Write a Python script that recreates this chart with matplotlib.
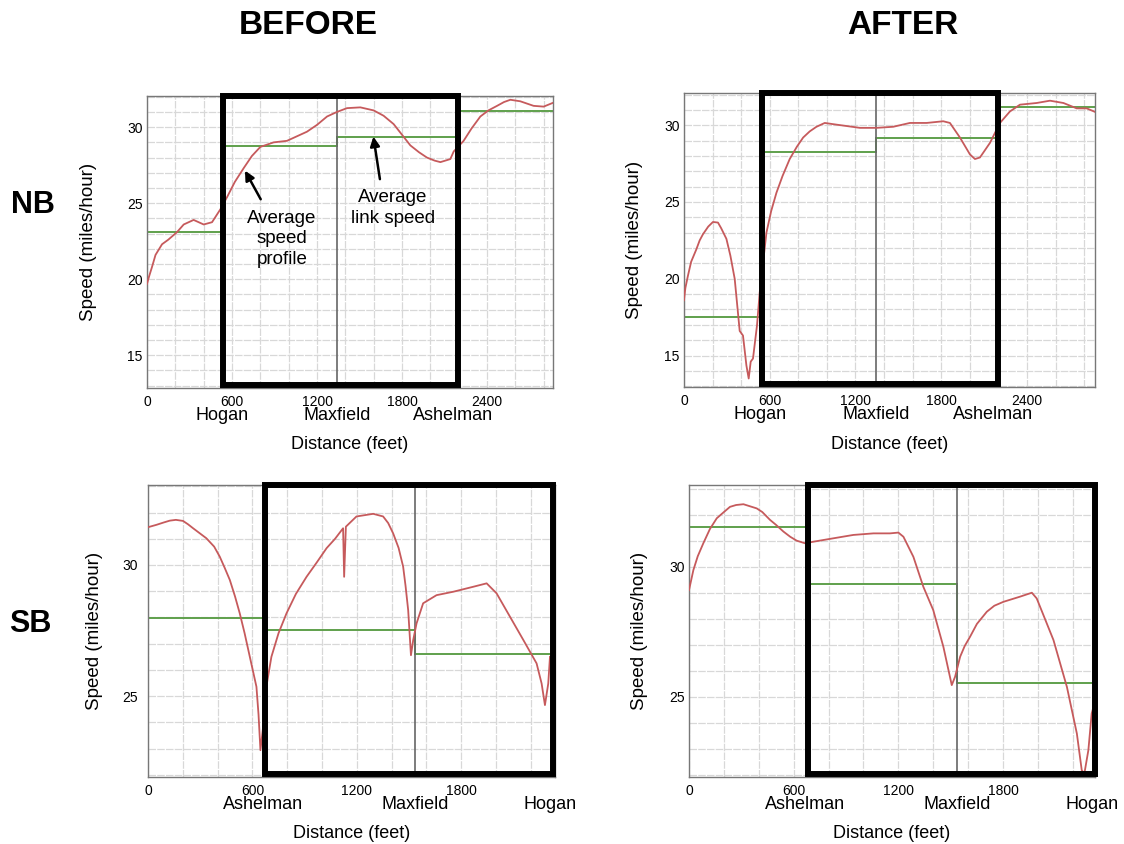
import numpy as np
import matplotlib.pyplot as plt
from matplotlib.patches import Rectangle

plt.rcParams['font.family'] = ['Liberation Sans', 'DejaVu Sans']

# ---- NB before ----
nb_before_x = [0, 15, 35, 60, 106, 150, 212, 259, 329, 400, 459, 518, 565, 620, 682, 740, 800,
               894, 988, 1129, 1200, 1271, 1341, 1412, 1506, 1600, 1670, 1741, 1800, 1859, 1920,
               1976, 2030, 2071, 2141, 2165, 2235, 2290, 2353, 2410, 2471, 2520, 2565, 2635,
               2729, 2800, 2866]
nb_before_y = [19.7, 20.2, 20.8, 21.6, 22.3, 22.6, 23.1, 23.6, 23.9, 23.6, 23.75, 24.6, 25.4,
               26.4, 27.3, 28.1, 28.7, 29.0, 29.1, 29.7, 30.15, 30.7, 31.0, 31.25, 31.3, 31.1,
               30.75, 30.2, 29.5, 28.8, 28.35, 28.0, 27.8, 27.7, 27.9, 28.4, 29.1, 29.9, 30.7,
               31.1, 31.4, 31.65, 31.8, 31.7, 31.4, 31.35, 31.6]
nb_before_nodes = [0, 536, 1341, 2195, 2866]
nb_before_avg = [23.1, 28.75, 29.35, 31.05]

# ---- NB after ----
nb_after_x = [0, 10, 28, 50, 86, 110, 133, 170, 203, 238, 260, 297, 325, 355, 390, 413, 437,
              453, 467, 483, 511, 530, 577, 610, 647, 690, 740, 790, 834, 880, 927, 985, 1067,
              1231, 1347, 1464, 1581, 1698, 1814, 1861, 1931, 2001, 2036, 2071, 2141, 2211,
              2281, 2351, 2468, 2561, 2655, 2748, 2818, 2876]
nb_after_y = [18.6, 19.4, 20.2, 21.1, 21.9, 22.5, 22.9, 23.4, 23.7, 23.66, 23.3, 22.6, 21.5,
              20.0, 16.6, 16.3, 14.35, 13.5, 14.6, 14.8, 16.95, 19.1, 23.0, 24.4, 25.6, 26.7,
              27.8, 28.6, 29.2, 29.6, 29.9, 30.15, 30.04, 29.83, 29.83, 29.9, 30.15, 30.15,
              30.26, 30.15, 29.2, 28.1, 27.8, 27.9, 28.85, 30.15, 30.9, 31.34, 31.45, 31.6,
              31.45, 31.1, 31.1, 30.87]
nb_after_nodes = [0, 549, 1347, 2199, 2876]
nb_after_avg = [17.5, 28.27, 29.18, 31.17]

nb_stations = ['Hogan', 'Maxfield', 'Ashelman']

# ---- SB before ----
sb_before_x = [0, 48, 90, 125, 160, 201, 230, 259, 335, 380, 412, 440, 470, 500, 527, 555,
               585, 605, 623, 635, 646, 661, 680, 709, 750, 796, 850, 911, 970, 1026, 1075,
               1121, 1127, 1137, 1198, 1294, 1351, 1380, 1409, 1440, 1466, 1480, 1495, 1511,
               1524, 1543, 1581, 1658, 1754, 1869, 1946, 2003, 2080, 2157, 2233, 2262, 2281,
               2300, 2310]
sb_before_y = [31.44, 31.53, 31.62, 31.69, 31.72, 31.68, 31.55, 31.4, 31.02, 30.7, 30.32,
               29.9, 29.43, 28.8, 28.16, 27.4, 26.5, 25.9, 25.36, 24.3, 22.94, 23.8, 25.36,
               26.5, 27.4, 28.16, 28.9, 29.55, 30.1, 30.64, 31.0, 31.4, 29.55, 31.46, 31.85,
               31.95, 31.85, 31.6, 31.2, 30.65, 29.94, 29.2, 28.28, 26.56, 27.14, 27.77, 28.54,
               28.85, 28.98, 29.17, 29.3, 28.92, 28.03, 27.14, 26.25, 25.48, 24.66, 25.48, 26.5]
sb_before_nodes = [0, 675, 1534, 2339]
sb_before_avg = [27.99, 27.54, 26.59]

# ---- SB after ----
sb_after_x = [0, 25, 50, 82, 120, 159, 200, 235, 270, 312, 388, 420, 464, 500, 541, 580,
              617, 665, 713, 827, 942, 1057, 1152, 1200, 1229, 1286, 1343, 1400, 1458, 1506,
              1525, 1554, 1580, 1611, 1650, 1707, 1750, 1802, 1898, 1965, 1993, 2089, 2166,
              2223, 2251, 2266, 2289, 2308, 2318]
sb_after_y = [29.1, 29.87, 30.4, 30.9, 31.45, 31.86, 32.1, 32.3, 32.37, 32.4, 32.24, 32.1,
              31.8, 31.6, 31.35, 31.15, 31.0, 30.9, 30.96, 31.09, 31.22, 31.28, 31.28, 31.31,
              31.15, 30.38, 29.23, 28.33, 26.92, 25.45, 25.77, 26.54, 26.95, 27.31, 27.8,
              28.27, 28.5, 28.65, 28.85, 29.0, 28.78, 27.18, 25.38, 23.59, 22.18, 22.05,
              22.95, 24.36, 24.6]
sb_after_nodes = [0, 684, 1535, 2327]
sb_after_avg = [31.54, 29.32, 25.54]

sb_stations = ['Ashelman', 'Maxfield', 'Hogan']

RED = '#c65a5c'
GREEN = '#5fa04c'

fig = plt.figure(figsize=(11.24, 8.44), dpi=100)


def panel(rect, x, y, nodes, avg, stations, station_x, box, ylim, yticks, ylab_x, ypad):
    ax = fig.add_axes(rect)
    ax.plot(x, y, color=RED, lw=1.3, zorder=3)
    ax.stairs(avg, nodes, color=GREEN, lw=1.4, baseline=None, zorder=2)
    ax.axvline(station_x[1], color='#666666', lw=1.2, zorder=2)
    ax.set_xlim(nodes[0], nodes[-1])
    ax.set_ylim(*ylim)
    ax.set_xticks([t for t in [0, 600, 1200, 1800, 2400] if t < nodes[-1]])
    ax.set_xticks(np.arange(0, nodes[-1], 200), minor=True)
    ax.set_yticks(yticks)
    ax.set_yticks(np.arange(np.ceil(ylim[0]), ylim[1], 1), minor=True)
    ax.grid(which='both', color='#d8d8d8', lw=0.9, ls=(0, (6, 1)))
    ax.set_axisbelow(True)
    ax.tick_params(which='both', length=0, labelsize=10)
    ax.tick_params(axis='x', pad=5)
    ax.tick_params(axis='y', pad=ypad)
    for s in ax.spines.values():
        s.set_color('#777777')
        s.set_linewidth(1.0)
    tr = ax.get_xaxis_transform()
    ax.add_patch(Rectangle((box[0], 0.01), box[1] - box[0], 0.99, transform=tr,
                           fill=False, ec='black', lw=4.3, clip_on=False, zorder=5))
    for name, sx in zip(stations, station_x):
        ax.text(sx, -0.095, name, transform=tr, ha='center', va='center', fontsize=13)
    ax.text(0.5, -0.195, 'Distance (feet)', transform=ax.transAxes, ha='center',
            va='center', fontsize=13)
    ax.set_ylabel('Speed (miles/hour)', fontsize=13.5)
    ax.yaxis.set_label_coords(ylab_x, 0.5)
    return ax


ax1 = panel([0.1308, 0.5403, 0.3612, 0.346], nb_before_x, nb_before_y, nb_before_nodes,
            nb_before_avg, nb_stations, [530, 1341, 2160], (536, 2195), (12.85, 32.05),
            [15, 20, 25, 30], -0.123, 3)
ax2 = panel([0.6085, 0.5415, 0.3657, 0.3483], nb_after_x, nb_after_y, nb_after_nodes,
            nb_after_avg, nb_stations, [530, 1347, 2160], (549, 2199), (12.95, 32.1),
            [15, 20, 25, 30], -0.1, 3)
ax3 = panel([0.1317, 0.0794, 0.3621, 0.346], sb_before_x, sb_before_y, sb_before_nodes,
            sb_before_avg, sb_stations, [661, 1534, 2310], (675, 2329), (21.92, 33.05),
            [25, 30], -0.11, 7)
ax4 = panel([0.613, 0.0794, 0.3612, 0.346], sb_after_x, sb_after_y, sb_after_nodes,
            sb_after_avg, sb_stations, [665, 1535, 2308], (684, 2327), (21.92, 33.14),
            [25, 30], -0.1, 3)

# callouts on NB before
arrow = dict(arrowstyle='-|>', color='black', lw=1.8, mutation_scale=14)
ax1.annotate('', xy=(682, 27.3), xytext=(812, 25.1), arrowprops=arrow, zorder=6)
ax1.text(953, 22.65, 'Average\nspeed\nprofile', ha='center', va='center', fontsize=13.5,
         linespacing=1.3)
ax1.annotate('', xy=(1595, 29.56), xytext=(1647, 26.4), arrowprops=arrow, zorder=6)
ax1.text(1734, 24.7, 'Average\nlink speed', ha='center', va='center', fontsize=13.5,
         linespacing=1.3)

fig.text(308 / 1124, 1 - 25 / 844, 'BEFORE', ha='center', va='center', fontsize=24,
         fontweight='bold')
fig.text(903 / 1124, 1 - 26 / 844, 'AFTER', ha='center', va='center', fontsize=24,
         fontweight='bold')
fig.text(33 / 1124, 1 - 205 / 844, 'NB', ha='center', va='center', fontsize=22,
         fontweight='bold')
fig.text(30 / 1124, 1 - 624 / 844, 'SB', ha='center', va='center', fontsize=22,
         fontweight='bold')

fig.savefig('out.png', dpi=100)
